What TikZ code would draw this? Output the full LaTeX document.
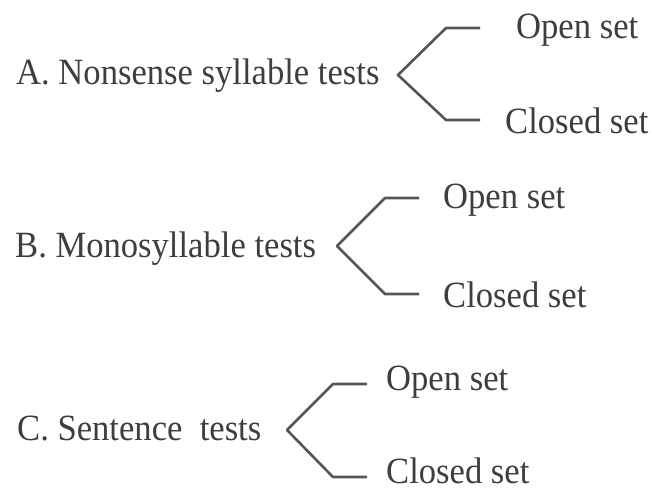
\documentclass[tikz,border=0pt]{standalone}
\usepackage{fontspec}
\setmainfont{Liberation Serif}
\usepackage{xcolor}
\usepackage{tikz}
\usetikzlibrary{positioning}
\definecolor{inkgray}{RGB}{62,62,62}
\definecolor{linegray}{RGB}{85,85,85}
\newcommand{\tall}[1]{\scalebox{1}[1.07]{#1}}
\tikzset{
    testlabel/.style={inner sep=0pt, anchor=base west, text=inkgray, font=\fontsize{34.6}{40}\selectfont},
    setlabel/.style={inner sep=0pt, anchor=base west, text=inkgray, font=\fontsize{34.6}{40}\selectfont},
    brace/.style={draw=linegray, line width=2.6pt, line join=round}
}
\begin{document}
\begin{tikzpicture}[x=1pt, y=-1pt]
    \useasboundingbox[fill=white] (0,0) rectangle (652,491);
    % A. Nonsense syllable tests
    \node[testlabel] (nonsense) at (16,84) {\tall{A. Nonsense syllable tests}};
    \node[setlabel] (nonsense_open) at (516,38) {\tall{Open set}};
    \node[setlabel] (nonsense_closed) at (505,133) {\tall{Closed set}};
    \coordinate (nonsense_v) at (398,75);
    \coordinate (nonsense_t) at (446,28);
    \coordinate (nonsense_te) at (480,28);
    \coordinate (nonsense_b) at (446,120);
    \coordinate (nonsense_be) at (480,120);
      % B. Monosyllable tests
    \node[testlabel] (mono) at (15,257) {\tall{B. Monosyllable tests}};
    \node[setlabel] (mono_open) at (443,208) {\tall{Open set}};
    \node[setlabel] (mono_closed) at (443,307) {\tall{Closed set}};
    \coordinate (mono_v) at (337,246);
    \coordinate (mono_t) at (385,198);
    \coordinate (mono_te) at (419,198);
    \coordinate (mono_b) at (385,294);
    \coordinate (mono_be) at (419,294);
      % C. Sentence tests
    \node[testlabel] (sentence) at (17,440) {\tall{C. Sentence\ \ tests}};
    \node[setlabel] (sentence_open) at (386,390) {\tall{Open set}};
    \node[setlabel] (sentence_closed) at (386,483) {\tall{Closed set}};
    \coordinate (sentence_v) at (287,430);
    \coordinate (sentence_t) at (333,384);
    \coordinate (sentence_te) at (367,384);
    \coordinate (sentence_b) at (333,477);
    \coordinate (sentence_be) at (367,477);

    % Brackets
    \draw[brace] (nonsense_te) -- (nonsense_t) -- (nonsense_v) -- (nonsense_b) -- (nonsense_be);
    \draw[brace] (mono_te) -- (mono_t) -- (mono_v) -- (mono_b) -- (mono_be);
    \draw[brace] (sentence_te) -- (sentence_t) -- (sentence_v) -- (sentence_b) -- (sentence_be);
\end{tikzpicture}
\end{document}
